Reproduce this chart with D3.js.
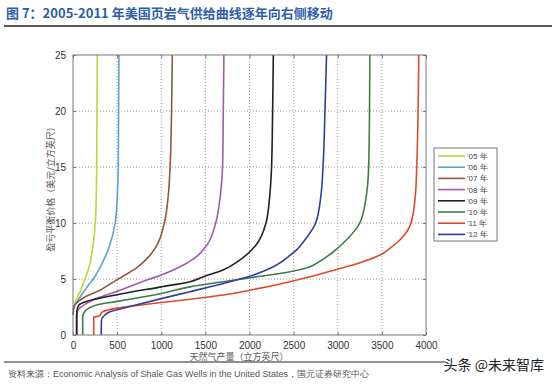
<!DOCTYPE html>
<html>
<head>
<meta charset="utf-8">
<script src="https://cdn.jsdelivr.net/npm/d3@7"></script>
<style>
  body { margin: 0; background: #fff; }
  svg { display: block; }
</style>
</head>
<body>
<div id="chart"></div>
<script>
// tick values
const xTicks = [0, 500, 1000, 1500, 2000, 2500, 3000, 3500, 4000];
const yTicks = [0, 5, 10, 15, 20, 25];

// legend labels and colours
const years = ["'05 年", "'06 年", "'07 年", "'08 年", "'09 年", "'10 年", "'11 年", "'12 年"];
const colors = ["#c3d43b", "#5aa6cf", "#8a5a45", "#9a5db0", "#222222", "#3f7b48", "#e04a2c", "#2f3f9c"];

// supply curves: [production, breakeven price]
const s05 = [[0,2.2],[10,2.5],[30,3],[55,3.5],[87,4],[110,4.5],[136,5],[180,6],[207,7],[227,8],[253,10],[264,12.5],[268,15],[272,20],[275,25]];
const s06 = [[0,2.3],[15,2.6],[50,3],[90,3.5],[135,4],[180,4.5],[230,5],[305,6],[365,7],[415,8],[478,10],[503,12.5],[513,15],[517,20],[521,25]];
const s07 = [[0,1.8],[12,2.5],[60,3],[160,3.5],[306,4],[410,4.5],[513,5],[720,6],[860,7],[950,8],[1035,10],[1080,12.5],[1100,15],[1117,20],[1125,25]];
const s08 = [[45,0],[45,1.7],[55,2.2],[110,2.6],[220,3.1],[532,4],[870,5],[1000,5.35],[1190,6],[1400,7],[1515,8],[1617,10],[1670,12.5],[1695,15],[1703,20],[1710,25]];
const s09 = [[40,0],[40,1.5],[45,2.2],[70,2.7],[150,3.0],[500,3.6],[1000,4.3],[1326,4.76],[1477,5.2],[1700,5.8],[1892,6.7],[2070,8],[2187,10],[2230,12.5],[2250,15],[2262,20],[2270,25]];
const s10 = [[110,0],[110,1.6],[125,2.0],[180,2.4],[300,2.75],[500,3.0],[1000,3.7],[1326,4.3],[1703,4.76],[2081,5.2],[2459,5.65],[2686,6.1],[2800,6.6],[2930,7.3],[3100,8.5],[3250,10],[3325,12.5],[3350,15],[3360,20],[3363,25]];
const s11 = [[235,0],[235,1.6],[290,1.68],[340,2.1],[500,2.4],[1000,2.9],[1326,3.19],[1703,3.57],[2006,4.0],[2459,4.76],[2686,5.2],[2850,5.55],[2988,5.85],[3252,6.45],[3479,7.14],[3592,7.74],[3706,8.5],[3830,10],[3880,12.5],[3895,15],[3910,20],[3918,25]];
const s12 = [[320,0],[322,1.3],[350,1.7],[419,2.08],[600,2.45],[1000,3.25],[1326,3.87],[1703,4.6],[1986,5.2],[2270,6.1],[2459,7.1],[2534,7.6],[2629,8.5],[2750,10],[2810,12.5],[2833,15],[2855,20],[2873,25]];

const series = [s05, s06, s07, s08, s09, s10, s11, s12];

const W = 554, H = 385;
const margin = {top: 55, right: 128, bottom: 50, left: 73},
    width = W - margin.left - margin.right,
    height = H - margin.top - margin.bottom;

const svg = d3.select("#chart")
    .append("svg")
    .attr("width", W)
    .attr("height", H);

svg.append("rect").attr("width", W).attr("height", H).attr("fill", "#fff");

// title
svg.append("text")
    .attr("x", 6)
    .attr("y", 18)
    .attr("font-family", "'Noto Sans CJK SC', sans-serif")
    .attr("font-size", "13px")
    .attr("font-weight", "bold")
    .attr("fill", "#2e5ea8")
    .text("图 7：2005-2011 年美国页岩气供给曲线逐年向右侧移动");

svg.append("line")
    .attr("x1", 4).attr("x2", 552)
    .attr("y1", 26).attr("y2", 26)
    .attr("stroke", "#222").attr("stroke-width", 1.6);

const g = svg.append("g")
    .attr("transform", `translate(${margin.left},${margin.top})`);

const x = d3.scaleLinear().domain([0, 4000]).range([0, width]);
const y = d3.scaleLinear().domain([0, 25]).range([height, 0]);

// dotted grid
g.append("g")
    .selectAll("line")
    .data(xTicks.slice(1, -1))
    .join("line")
    .attr("x1", d => x(d)).attr("x2", d => x(d))
    .attr("y1", 0).attr("y2", height)
    .attr("stroke", "#9a9a9a")
    .attr("stroke-dasharray", "1,2");

g.append("g")
    .selectAll("line")
    .data(yTicks.slice(1, -1))
    .join("line")
    .attr("x1", 0).attr("x2", width)
    .attr("y1", d => y(d)).attr("y2", d => y(d))
    .attr("stroke", "#9a9a9a")
    .attr("stroke-dasharray", "1,2");

// axes (matlab style: inward ticks on all sides)
const axisStyle = sel => {
    sel.select(".domain").remove();
    sel.selectAll("text")
        .attr("font-family", "'Liberation Sans', Arial, sans-serif")
        .attr("font-size", "10px")
        .attr("fill", "#333");
    sel.selectAll("line").attr("stroke", "#777");
};

g.append("g")
    .attr("transform", `translate(0,${height})`)
    .call(d3.axisBottom(x).tickValues(xTicks).tickFormat(d3.format("d")).tickSizeInner(-3).tickPadding(7))
    .call(axisStyle);

g.append("g")
    .call(d3.axisLeft(y).tickValues(yTicks).tickFormat(d3.format("d")).tickSizeInner(-3).tickPadding(7))
    .call(axisStyle);

g.append("g")
    .call(d3.axisTop(x).tickValues(xTicks).tickSizeInner(-3).tickFormat(""))
    .call(axisStyle);

g.append("g")
    .attr("transform", `translate(${width},0)`)
    .call(d3.axisRight(y).tickValues(yTicks).tickSizeInner(-3).tickFormat(""))
    .call(axisStyle);

// curves
const line = d3.line()
    .x(d => x(d[0]))
    .y(d => y(d[1]))
    .curve(d3.curveMonotoneY);

g.append("g")
    .selectAll("path")
    .data(series)
    .join("path")
    .attr("fill", "none")
    .attr("stroke", (d, i) => colors[i])
    .attr("stroke-width", 1.6)
    .attr("d", line);

// frame
g.append("rect")
    .attr("width", width).attr("height", height)
    .attr("fill", "none")
    .attr("stroke", "#777");

// axis titles
g.append("text")
    .attr("transform", `translate(-19,${height / 2 - 8}) rotate(-90)`)
    .attr("text-anchor", "middle")
    .attr("font-family", "'Noto Sans CJK SC', sans-serif")
    .attr("font-size", "9px")
    .attr("fill", "#555")
    .text("盈亏平衡价格（美元/立方英尺）");

g.append("text")
    .attr("x", x(1880))
    .attr("y", height + 25)
    .attr("text-anchor", "middle")
    .attr("font-family", "'Noto Sans CJK SC', sans-serif")
    .attr("font-size", "9px")
    .attr("fill", "#555")
    .text("天然气产量（立方英尺）");

// legend
const lg = svg.append("g").attr("transform", "translate(434,148)");
lg.append("rect")
    .attr("width", 63).attr("height", 93)
    .attr("fill", "#fff")
    .attr("stroke", "#777");

const rows = lg.selectAll("g")
    .data(years)
    .join("g")
    .attr("transform", (d, i) => `translate(0,${8 + i * 11.2})`);

rows.append("line")
    .attr("x1", 4).attr("x2", 31)
    .attr("stroke", (d, i) => colors[i])
    .attr("stroke-width", 1.6);

rows.append("text")
    .attr("x", 33)
    .attr("y", 3)
    .attr("font-family", "'Liberation Sans', Arial, sans-serif")
    .attr("font-size", "8px")
    .attr("fill", "#444")
    .text(d => d);

// footer
svg.append("line")
    .attr("x1", 4).attr("x2", 445)
    .attr("y1", 362).attr("y2", 362)
    .attr("stroke", "#222").attr("stroke-width", 1.2);

svg.append("text")
    .attr("x", 8)
    .attr("y", 377)
    .attr("font-family", "'Liberation Sans', Arial, sans-serif")
    .attr("font-size", "9px")
    .attr("fill", "#555")
    .text("资料来源：Economic Analysis of Shale Gas Wells in the United States，国元证券研究中心");

svg.append("text")
    .attr("x", 544)
    .attr("y", 370)
    .attr("text-anchor", "end")
    .attr("font-family", "'Noto Sans CJK SC', sans-serif")
    .attr("font-size", "14px")
    .attr("fill", "#222")
    .text("头条 @未来智库");
</script>
</body>
</html>
